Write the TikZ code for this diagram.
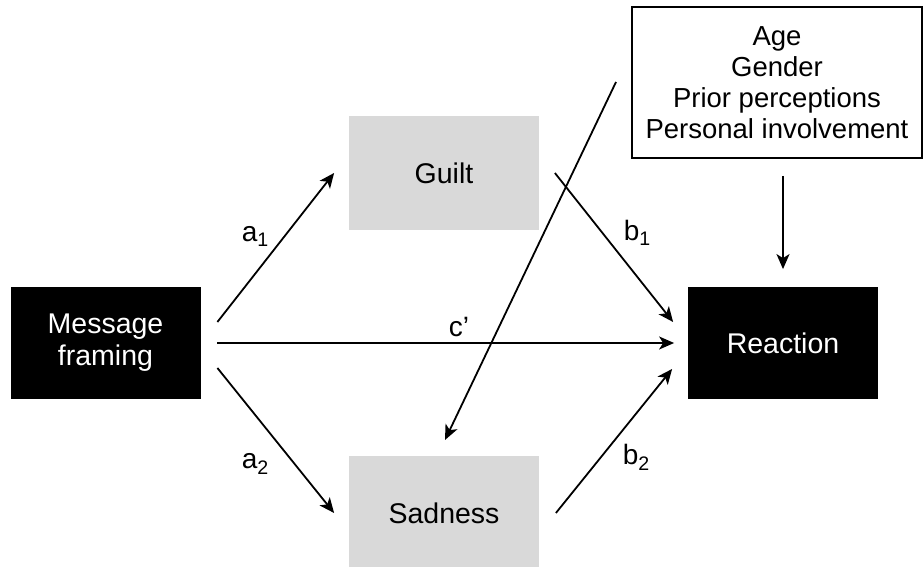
\documentclass[tikz,border=0pt]{standalone}
\usepackage{fontspec}
\setmainfont{Liberation Sans}
\usetikzlibrary{arrows.meta,positioning}
\definecolor{boxgray}{HTML}{D9D9D9}

\begin{document}
\begin{tikzpicture}[x=1pt,y=1pt,-{Stealth[length=15pt,width=13pt,inset=4pt]},line width=1.8pt,
  dark node/.style={rectangle,fill=black,text=white,align=center,inner sep=0pt,
    font=\fontsize{28.5}{32}\selectfont,minimum width=190pt,minimum height=112pt},
  light node/.style={rectangle,fill=boxgray,inner sep=0pt,
    font=\fontsize{28.5}{32}\selectfont,minimum width=190pt,minimum height=114pt},
  cov node/.style={rectangle,draw,line width=1.8pt,align=center,inner sep=0pt,
    font=\fontsize{27.5}{31}\selectfont,minimum width=290pt,minimum height=151pt},
  lbl/.style={font=\fontsize{28}{32}\selectfont,anchor=base west,inner sep=0pt}]

  \path[use as bounding box] (0,0) rectangle (924,567);

  \node[dark node] (msg) at (105.5,224) {Message\\framing};
  \node[dark node] (rea) [node distance=677.5pt, right of=msg] {Reaction};
  \node[light node] (gui) at (444,394) {Guilt};
  \node[light node] (sad) at (444,54) {Sadness};
  \node[cov node] (cov) at (777,484.5) {Age\\Gender\\Prior perceptions\\Personal involvement};

  \coordinate (covtail) at (616,485);
  \coordinate (covtip) at (445,127);

  \draw ([shift={(16,21)}]msg.east) -- ([xshift=-14pt]gui.west);
  \draw ([shift={(16,-25)}]msg.east) -- ([shift={(-14,0)}]sad.west);
  \draw ([xshift=16pt]msg.east) -- ([xshift=-13pt]rea.west);
  \draw ([xshift=15pt]gui.east) -- ([shift={(-14,21)}]rea.west);
  \draw ([xshift=16pt]sad.east) -- ([shift={(-15,-26)}]rea.west);
  \draw ([yshift=-17pt]rea.north |- cov.south) -- ([yshift=17pt]rea.north);
  \draw (covtail) -- (covtip);

  % path labels
  \node[lbl] (la1) at (241,325) {a\textsubscript{1}};
  \node[lbl] (la2) at (241,98) {a\textsubscript{2}};
  \node[lbl] (lb1) at (623,326) {b\textsubscript{1}};
  \node[lbl] (lb2) at (622,102) {b\textsubscript{2}};
  \node[lbl] (lc) at (448,230) {c’};
\end{tikzpicture}
\end{document}
